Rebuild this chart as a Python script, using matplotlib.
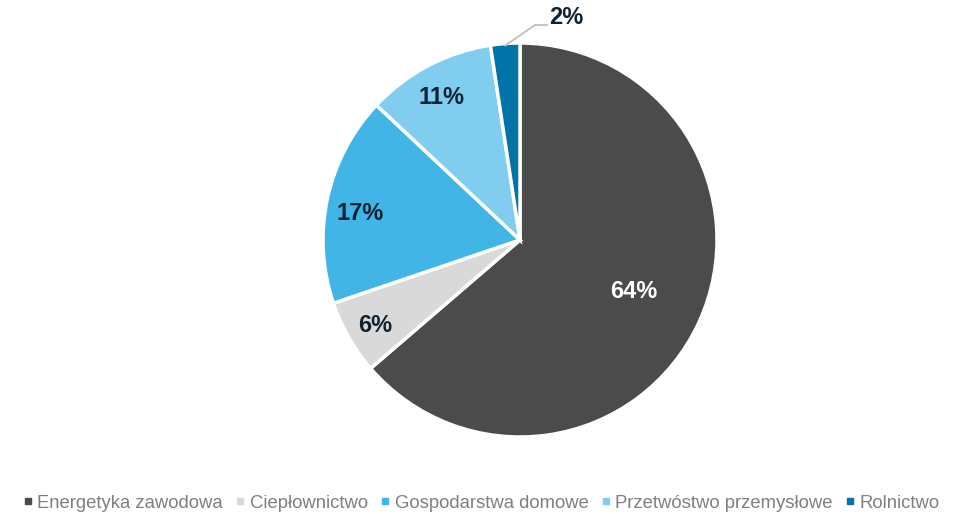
import numpy as np
import matplotlib
matplotlib.use('Agg')
import matplotlib.pyplot as plt

# data
categories = ['Energetyka zawodowa', 'Ciepłownictwo', 'Gospodarstwa domowe',
              'Przetwóstwo przemysłowe', 'Rolnictwo']
shares = [63.7, 6.1, 17.2, 10.6, 2.4]
colors = ['#4b4b4b', '#d9d9d9', '#41b6e6', '#80cdf0', '#0073a8']
label_colors = ['white', '#0e2233', '#0e2233', '#0e2233', '#0e2233']
# label centres, in pixels of the 963x514 image
label_px = [(634, 292), (375, 325), (360, 213), (441, 97), (566, 17)]

plt.rcParams['font.family'] = ['Liberation Sans', 'DejaVu Sans']

fig = plt.figure(figsize=(9.63, 5.14), dpi=100)
# square axes in pixels: centre (520, 240), radius 197
W, H = 963, 514
cx, cy, r = 520, 240, 197
ax = fig.add_axes([(cx - r) / W, (H - cy - r) / H, 2 * r / W, 2 * r / H])

wedges, _ = ax.pie(shares, colors=colors, startangle=90, counterclock=False,
                   radius=1, wedgeprops=dict(edgecolor='white', linewidth=2.5))
ax.set_xlim(-1, 1)
ax.set_ylim(-1, 1)
ax.set_aspect('auto')
ax.axis('off')

def px(x, y):
    return (x - cx) / r, (cy - y) / r

for val, col, (lx, ly) in zip(shares, label_colors, label_px):
    tx, ty = px(lx, ly)
    ax.text(tx, ty, '%d%%' % round(val), ha='center', va='center',
            fontsize=17, fontweight='bold', color=col, clip_on=False)

# leader line for the small slice
w = wedges[-1]
ang = np.deg2rad((w.theta1 + w.theta2) / 2)
x0, y0 = 0.99 * np.cos(ang), 0.99 * np.sin(ang)
x1, y1 = px(535, 25)
x2, _ = px(547, 25)
ax.plot([x0, x1, x2], [y0, y1, y1], color='#bfbfbf', lw=1.3, clip_on=False)

handles = [plt.Line2D([], [], marker='s', ls='', color=c, markersize=4)
           for c in colors]
fig.legend(handles, categories, loc='center', bbox_to_anchor=(482 / W, 1 - 503 / H),
           ncol=5, frameon=False, fontsize=13.3, handlelength=0.4,
           handletextpad=0.3, columnspacing=0.75, labelcolor='#7f7f7f',
           borderpad=0, borderaxespad=0)

fig.savefig('out.png', dpi=100, facecolor='white')
